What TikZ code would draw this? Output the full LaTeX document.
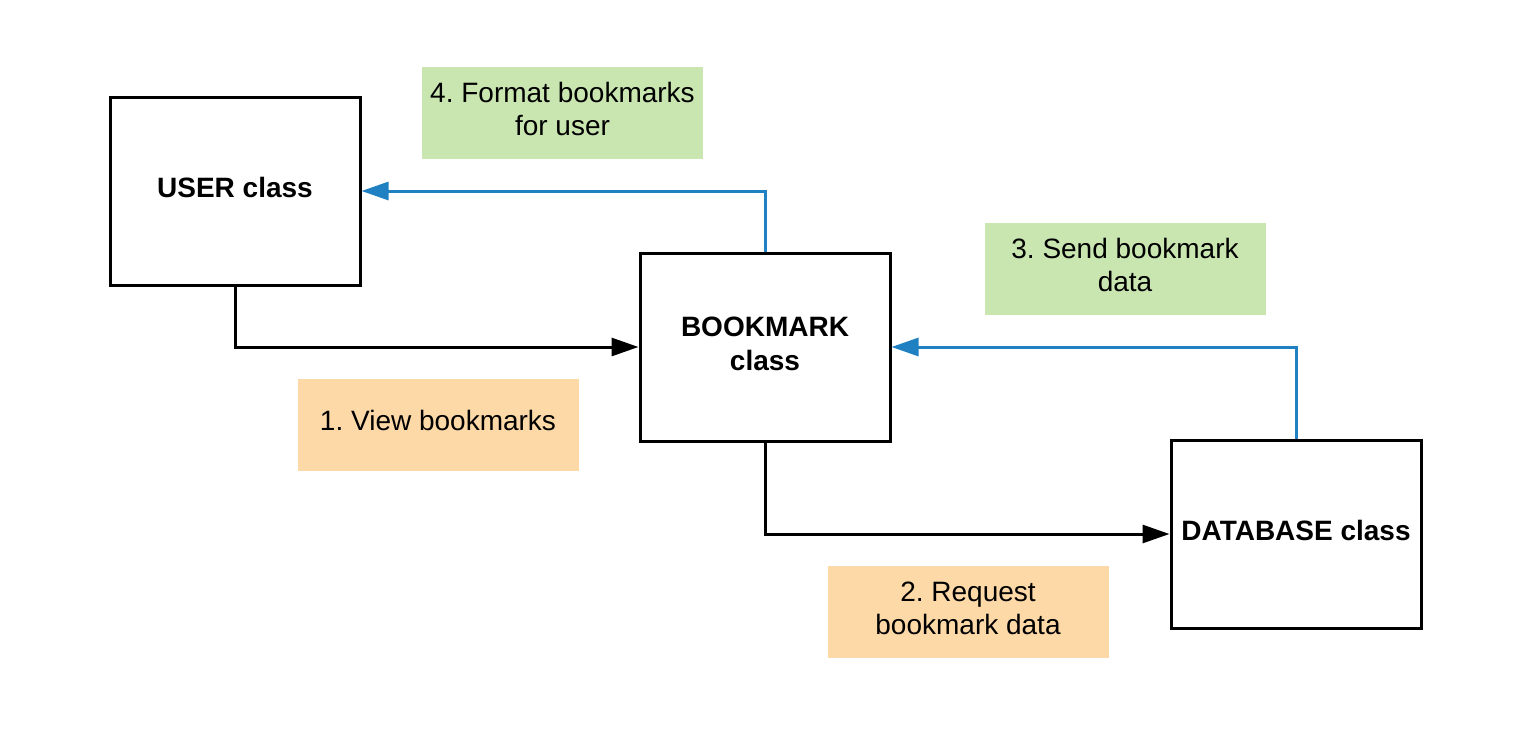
\documentclass[tikz,border=0pt]{standalone}
\usepackage{fontspec}
\setmainfont{Liberation Sans}
\usetikzlibrary{arrows.meta}
\frenchspacing
\definecolor{notegreen}{HTML}{C9E6B1}
\definecolor{noteorange}{HTML}{FDD9A8}
\definecolor{linkblue}{HTML}{1F80C2}
\tikzset{
  classbox/.style={draw=black, line width=1.5pt, fill=white, minimum width=125pt, minimum height=94pt, align=center, font=\fontsize{14pt}{17pt}\selectfont\bfseries, inner sep=0pt},
  notebox/.style={minimum width=140.5pt, minimum height=46pt, align=center, font=\fontsize{14pt}{16.5pt}\selectfont, inner sep=0pt},
  greennote/.style={notebox, fill=notegreen},
  orangenote/.style={notebox, fill=noteorange},
  oneline/.style={text height=10pt, text depth=4pt},
  twoline/.style={text height=26.7pt, text depth=4pt},
  blackflow/.style={draw=black, line width=1.5pt, -{Triangle[length=13.5pt,width=9pt]}},
  blueflow/.style={draw=linkblue, line width=1.5pt, -{Triangle[length=13.5pt,width=9pt]}},
}
\begin{document}
\begin{tikzpicture}[x=0.5pt, y=-0.5pt]
\useasboundingbox[fill=white] (0,0) rectangle (1530,744);
\node[classbox, text height=27pt, text depth=4pt] (bm) at (765,347) {BOOKMARK\\class};
\node[classbox, oneline] (user) at (235,191) {USER class};
\node[classbox, oneline] (db) at (1296,534) {DATABASE class};
\node[greennote, twoline] (n4) at (562.5,113) {4. Format bookmarks\\for user};
\node[greennote, twoline] (n3) at (1125,268.5) {3. Send bookmark\\data};
\node[orangenote, oneline] (n1) at (438,424.5) {1. View bookmarks};
\node[orangenote, twoline] (n2) at (968,612) {2. Request\\bookmark data};
\draw[blackflow] (user.south) |- (bm.west);
\draw[blackflow] (bm.south) |- (db.west);
\draw[blueflow] (bm.north) |- (user.east);
\draw[blueflow] (db.north) |- (bm.east);
\end{tikzpicture}
\end{document}
